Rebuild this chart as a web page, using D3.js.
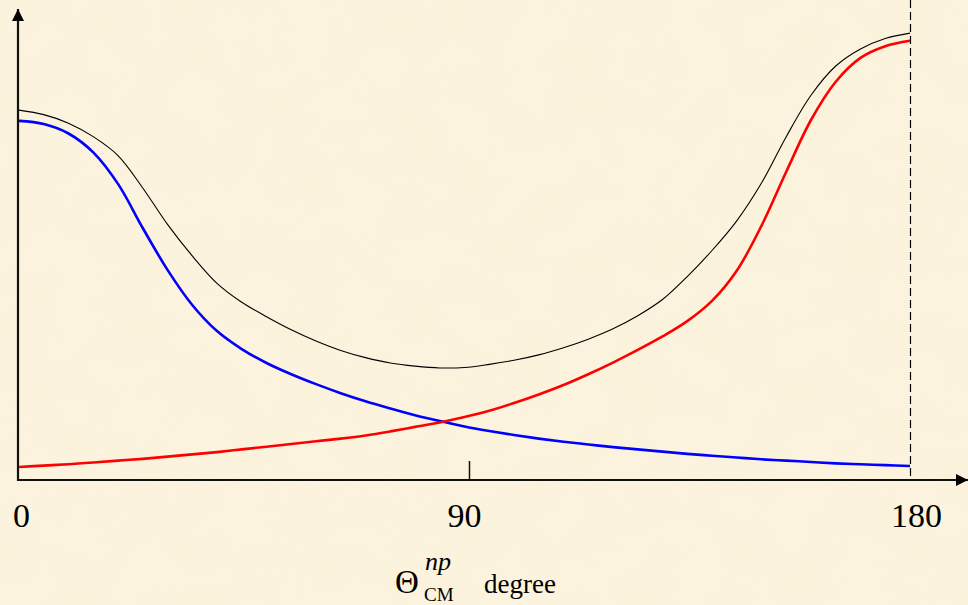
<!DOCTYPE html>
<html>
<head>
<meta charset="utf-8">
<script src="https://cdn.jsdelivr.net/npm/d3@7/dist/d3.min.js"></script>
<style>
  html, body { margin: 0; padding: 0; background: #fcf3de; }
  svg { display: block; }
</style>
</head>
<body>
<svg id="chart" width="968" height="605"></svg>
<script>
// Scattering angle in the CM frame (degrees)
const angles = d3.range(0, 181, 5);

// Total cross section (thin black)
const totalCurve = [82.2, 81.2, 79.3, 76.3, 72.1, 64.9, 56.8, 49.8, 43.7, 39.5, 36.3, 33.4,
  30.9, 28.8, 27.2, 26.0, 25.3, 24.9, 25.0, 25.7, 26.6, 27.8, 29.4, 31.3, 33.6, 36.5, 40.1,
  45.2, 51.0, 57.6, 66.0, 76.3, 85.5, 92.0, 95.8, 98.1, 99.3];

// Forward-peaked component (blue)
const forwardCurve = [79.8, 79.1, 77.0, 72.8, 65.8, 56.0, 46.7, 38.9, 33.1, 29.1, 26.0, 23.5,
  21.3, 19.3, 17.5, 15.9, 14.4, 13.1, 11.9, 10.9, 10.0, 9.2, 8.5, 7.9, 7.3, 6.8, 6.3,
  5.8, 5.4, 5.0, 4.6, 4.3, 4.0, 3.7, 3.5, 3.3, 3.1];

// Backward-peaked component (red)
const backwardCurve = [2.9, 3.2, 3.5, 3.9, 4.3, 4.7, 5.2, 5.7, 6.2, 6.8, 7.4, 8.0,
  8.6, 9.2, 9.9, 10.8, 11.8, 12.8, 14.0, 15.4, 17.1, 19.0, 21.1, 23.5, 26.1, 28.9, 31.9,
  35.3, 39.8, 46.5, 56.5, 68.5, 80.0, 88.5, 93.8, 96.4, 97.6];

const tickLabels = [0, 90, 180];
const markedTicks = [90];

const W = 968, H = 605;
const svg = d3.select("#chart");

// Parchment background with soft mottling
const defs = svg.append("defs");
const paper = defs.append("filter").attr("id", "paper")
  .attr("x", 0).attr("y", 0).attr("width", "100%").attr("height", "100%");
paper.append("feTurbulence").attr("type", "fractalNoise")
  .attr("baseFrequency", "0.018 0.022").attr("numOctaves", 4).attr("seed", 7).attr("result", "noise");
paper.append("feColorMatrix").attr("in", "noise").attr("type", "matrix")
  .attr("values", "0 0 0 0 0.91  0 0 0 0 0.82  0 0 0 0 0.60  0.9 0 0 0 -0.36");

svg.append("rect").attr("width", W).attr("height", H).attr("fill", "#fcf3de");
svg.append("rect").attr("width", W).attr("height", H).attr("filter", "url(#paper)").attr("opacity", 0.3);

// Arrowhead marker
defs.append("marker").attr("id", "arrow")
  .attr("viewBox", "0 0 10 10").attr("refX", 10).attr("refY", 5)
  .attr("markerUnits", "userSpaceOnUse")
  .attr("markerWidth", 16).attr("markerHeight", 12).attr("orient", "auto")
  .append("path").attr("d", "M0,0 L10,5 L0,10 Z").attr("fill", "#000");

const x = d3.scaleLinear().domain([0, 180]).range([19, 910]);
const y = d3.scaleLinear().domain([0, 100]).range([480, 30]);
const axisX0 = 18;

// Dashed line at 180 degrees
svg.append("line")
  .attr("x1", x(180) + 0.5).attr("x2", x(180) + 0.5)
  .attr("y1", 0).attr("y2", y(0))
  .attr("stroke", "#000").attr("stroke-width", 1.2)
  .attr("stroke-dasharray", "8,4");

// Axes with arrows
svg.append("line")
  .attr("x1", axisX0).attr("y1", y(0)).attr("x2", 968).attr("y2", y(0))
  .attr("stroke", "#111").attr("stroke-width", 2.2).attr("marker-end", "url(#arrow)");
svg.append("line")
  .attr("x1", axisX0).attr("y1", y(0) + 1).attr("x2", axisX0).attr("y2", 9)
  .attr("stroke", "#111").attr("stroke-width", 2.2).attr("marker-end", "url(#arrow)");

// Inner tick at 90
const xAxis = d3.axisBottom(x).tickValues(markedTicks).tickSize(-19).tickFormat("");
const gx = svg.append("g").attr("transform", `translate(0,${y(0)})`).call(xAxis);
gx.select(".domain").remove();
gx.selectAll(".tick line").attr("stroke", "#111").attr("stroke-width", 1.5)
  .attr("transform", "translate(4.5,0)");

// Tick labels
svg.append("g").selectAll("text").data(tickLabels).join("text")
  .attr("x", d => x(d) + (d === 0 ? 2.5 : d === 180 ? 6.5 : 0))
  .attr("y", 527)
  .attr("text-anchor", "middle")
  .attr("font-family", "'Liberation Serif', 'Times New Roman', serif")
  .attr("font-size", 34)
  .attr("fill", "#000")
  .text(d => d);

// Axis title
const title = svg.append("g").attr("font-family", "'Liberation Serif', 'Times New Roman', serif").attr("fill", "#000");
title.append("text").attr("x", 395).attr("y", 593).attr("font-size", 33).text("Θ");
title.append("text").attr("x", 425).attr("y", 570).attr("font-size", 26).attr("font-style", "italic").text("np");
title.append("text").attr("x", 424).attr("y", 601).attr("font-size", 19).text("CM");
title.append("text").attr("x", 484).attr("y", 593).attr("font-size", 27).text("degree");

// Curves
const line = d3.line()
  .x((d, i) => x(angles[i]))
  .y(d => y(d))
  .curve(d3.curveCatmullRom.alpha(0.5));

svg.append("path").datum(forwardCurve).attr("d", line)
  .attr("fill", "none").attr("stroke", "#0000ff").attr("stroke-width", 2.6);
svg.append("path").datum(backwardCurve).attr("d", line)
  .attr("fill", "none").attr("stroke", "#ff0000").attr("stroke-width", 2.6);
svg.append("path").datum(totalCurve).attr("d", line)
  .attr("fill", "none").attr("stroke", "#000").attr("stroke-width", 1.1);
</script>
</body>
</html>
